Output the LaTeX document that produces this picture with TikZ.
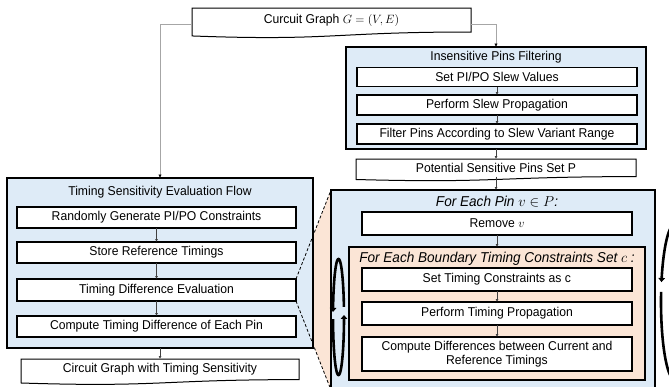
\documentclass[tikz,border=0pt]{standalone}
\usepackage{fontspec}
\setmainfont{Liberation Sans}[FakeStretch=0.95]
\usetikzlibrary{arrows.meta,calc}
\definecolor{bluefill}{HTML}{DEEBF7}
\definecolor{peach}{HTML}{FBE5D6}
\definecolor{conngray}{HTML}{A6A6A6}
\definecolor{arrgray}{HTML}{404040}
\tikzset{
  base/.style={font=\fontsize{12.8}{14.5}\selectfont, inner sep=0pt, outer sep=0pt, text=black},
  container/.style={base, draw=black, line width=1.2pt, fill=bluefill},
  pcontainer/.style={base, draw=black, line width=1.2pt, fill=peach},
  ibox/.style={base, draw=black, line width=1.2pt, fill=white, align=center},
  docbox/.style={base, align=center},
  doc/.style={draw=black, line width=1pt},
  title/.style={base},
  ititle/.style={base, font=\fontsize{14.3}{16}\selectfont\itshape},
  flow/.style={draw=arrgray, line width=0.6pt, -{Latex[length=3pt,width=3pt]}},
  elbow/.style={draw=conngray, line width=0.8pt, -{Latex[length=3.5pt,width=3.5pt,color=black]}},
  loopline/.style={draw=black, line width=2.6pt},
  looparrow/.style={loopline, -{Triangle[length=4pt,width=6.5pt]}},
  zoomline/.style={draw=black, line width=0.8pt, dash pattern=on 3pt off 2pt},
}
\newcommand\docpath[1]{%
  \draw[doc] (#1.north west) -- (#1.north east) -- (#1.south east)
    .. controls (#1.south) and ($(#1.north)!1.381!(#1.south)$) ..
    ($(#1.north west)!1.1646!(#1.south west)$) -- cycle;}
\begin{document}
\begin{tikzpicture}[x=1pt,y=-1pt]
\useasboundingbox (0,0) rectangle (669,386);
\clip (0,0) rectangle (669,386);

% top document
\node[docbox, minimum width=279pt, minimum height=24pt] (top) at (331.5,20) {Curcuit Graph $G=(V,E)$};
\docpath{top}

% zoom wedge (behind left container)
\node[base, minimum width=324pt, minimum height=200pt] (fcref) at (493,290) {};
\coordinate (lb3ne) at (296,279);
\coordinate (lb3se) at (296,301);
\fill[peach] (lb3ne) -- (fcref.north west) -- (fcref.south west) -- (lb3se) -- cycle;

% left container
\node[container, minimum width=306pt, minimum height=170pt] (lc) at (160,263) {};
\node[title] (lct) at (160,192) {Timing Sensitivity Evaluation Flow};
\node[ibox, minimum width=279pt, minimum height=21pt] (lb1) at (156.5,217.5) {Randomly Generate PI/PO Constraints};
\node[ibox, minimum width=279pt, minimum height=21pt] (lb2) at (156.5,252.5) {Store Reference Timings};
\node[ibox, minimum width=279pt, minimum height=22pt] (lb3) at (156.5,290) {Timing Difference Evaluation};
\node[ibox, minimum width=279pt, minimum height=21pt] (lb4) at (156.5,326.5) {Compute Timing Difference of Each Pin};
\draw[flow] (lb1.south) -- (lb2.north);
\draw[flow] (lb2.south) -- (lb3.north);
\draw[flow] (lb3.south) -- (lb4.north);

% output document
\node[docbox, minimum width=278pt, minimum height=20.6pt] (out) at (160,369.3) {Circuit Graph with Timing Sensitivity};
\docpath{out}
\draw[flow] (lc.south) -- (out.north);

% insensitive pins filtering
\node[container, minimum width=300pt, minimum height=102pt] (ic) at (496,98) {};
\node[title] (ict) at (496,57) {Insensitive Pins Filtering};
\node[ibox, minimum width=280pt, minimum height=19pt] (ib1) at (497,77) {Set PI/PO Slew Values};
\node[ibox, minimum width=280pt, minimum height=20pt] (ib2) at (497,105) {Perform Slew Propagation};
\node[ibox, minimum width=280pt, minimum height=20pt] (ib3) at (497,134) {Filter Pins According to Slew Variant Range};
\draw[flow] (ib1.south) -- (ib2.north);
\draw[flow] (ib2.south) -- (ib3.north);

% potential set
\node[docbox, minimum width=280pt, minimum height=17.6pt] (pot) at (496,167.8) {Potential Sensitive Pins Set P};
\docpath{pot}
\draw[flow] (ic.south) -- (pot.north);

% elbows from top
\draw[elbow] ([yshift=-4pt]top.west) -| (lc.north);
\draw[elbow] ([yshift=-4pt]top.east) -| (ic.north);

% for each pin container
\node[container, minimum width=324pt, minimum height=200pt] (fc) at (493,290) {};
\node[ititle] (fct) at (497,202) {For Each Pin $v\in P$:};
\node[ibox, minimum width=270pt, minimum height=23pt] (rm) at (497,223.5) {Remove $v$};
\draw[flow] (pot.south) -- (pot.south |- fc.north);
\node[pcontainer, minimum width=296pt, minimum height=133pt] (oc) at (497,313.5) {};
\node[ititle] (oct) at (497,259) {For Each Boundary Timing Constraints Set $c$ :};
\node[ibox, minimum width=270pt, minimum height=23pt] (ob1) at (497,279.5) {Set Timing Constraints as $\mathrm{c}$};
\node[ibox, minimum width=270pt, minimum height=23pt] (ob2) at (497,313.5) {Perform Timing Propagation};
\node[ibox, minimum width=270pt, minimum height=34pt] (ob3) at (497,354) {Compute Differences between Current and\\Reference Timings};
\draw[flow] (rm.south) -- (oc.north);
\draw[flow] (ob1.south) -- (ob2.north);
\draw[flow] (ob2.south) -- (ob3.north);

% zoom dashed lines
\draw[zoomline] (lb3.north east) -- (fc.north west);
\draw[zoomline] (lb3.south east) -- (fc.south west);

% left loop
\draw[looparrow] plot[domain=10:175, samples=50] ({338.5+5.5*cos(\x)},{317-58*sin(\x)});
\draw[looparrow] plot[domain=182:362, samples=50] ({338.5+5.5*cos(\x)},{317-58*sin(\x)});

% right loop
\draw[looparrow] plot[domain=50:165.2, samples=50] ({675+14*cos(\x)},{302-78*sin(\x)});
\draw[loopline] plot[domain=172.6:320, samples=50] ({675+14*cos(\x)},{302-78*sin(\x)});
\end{tikzpicture}
\end{document}
